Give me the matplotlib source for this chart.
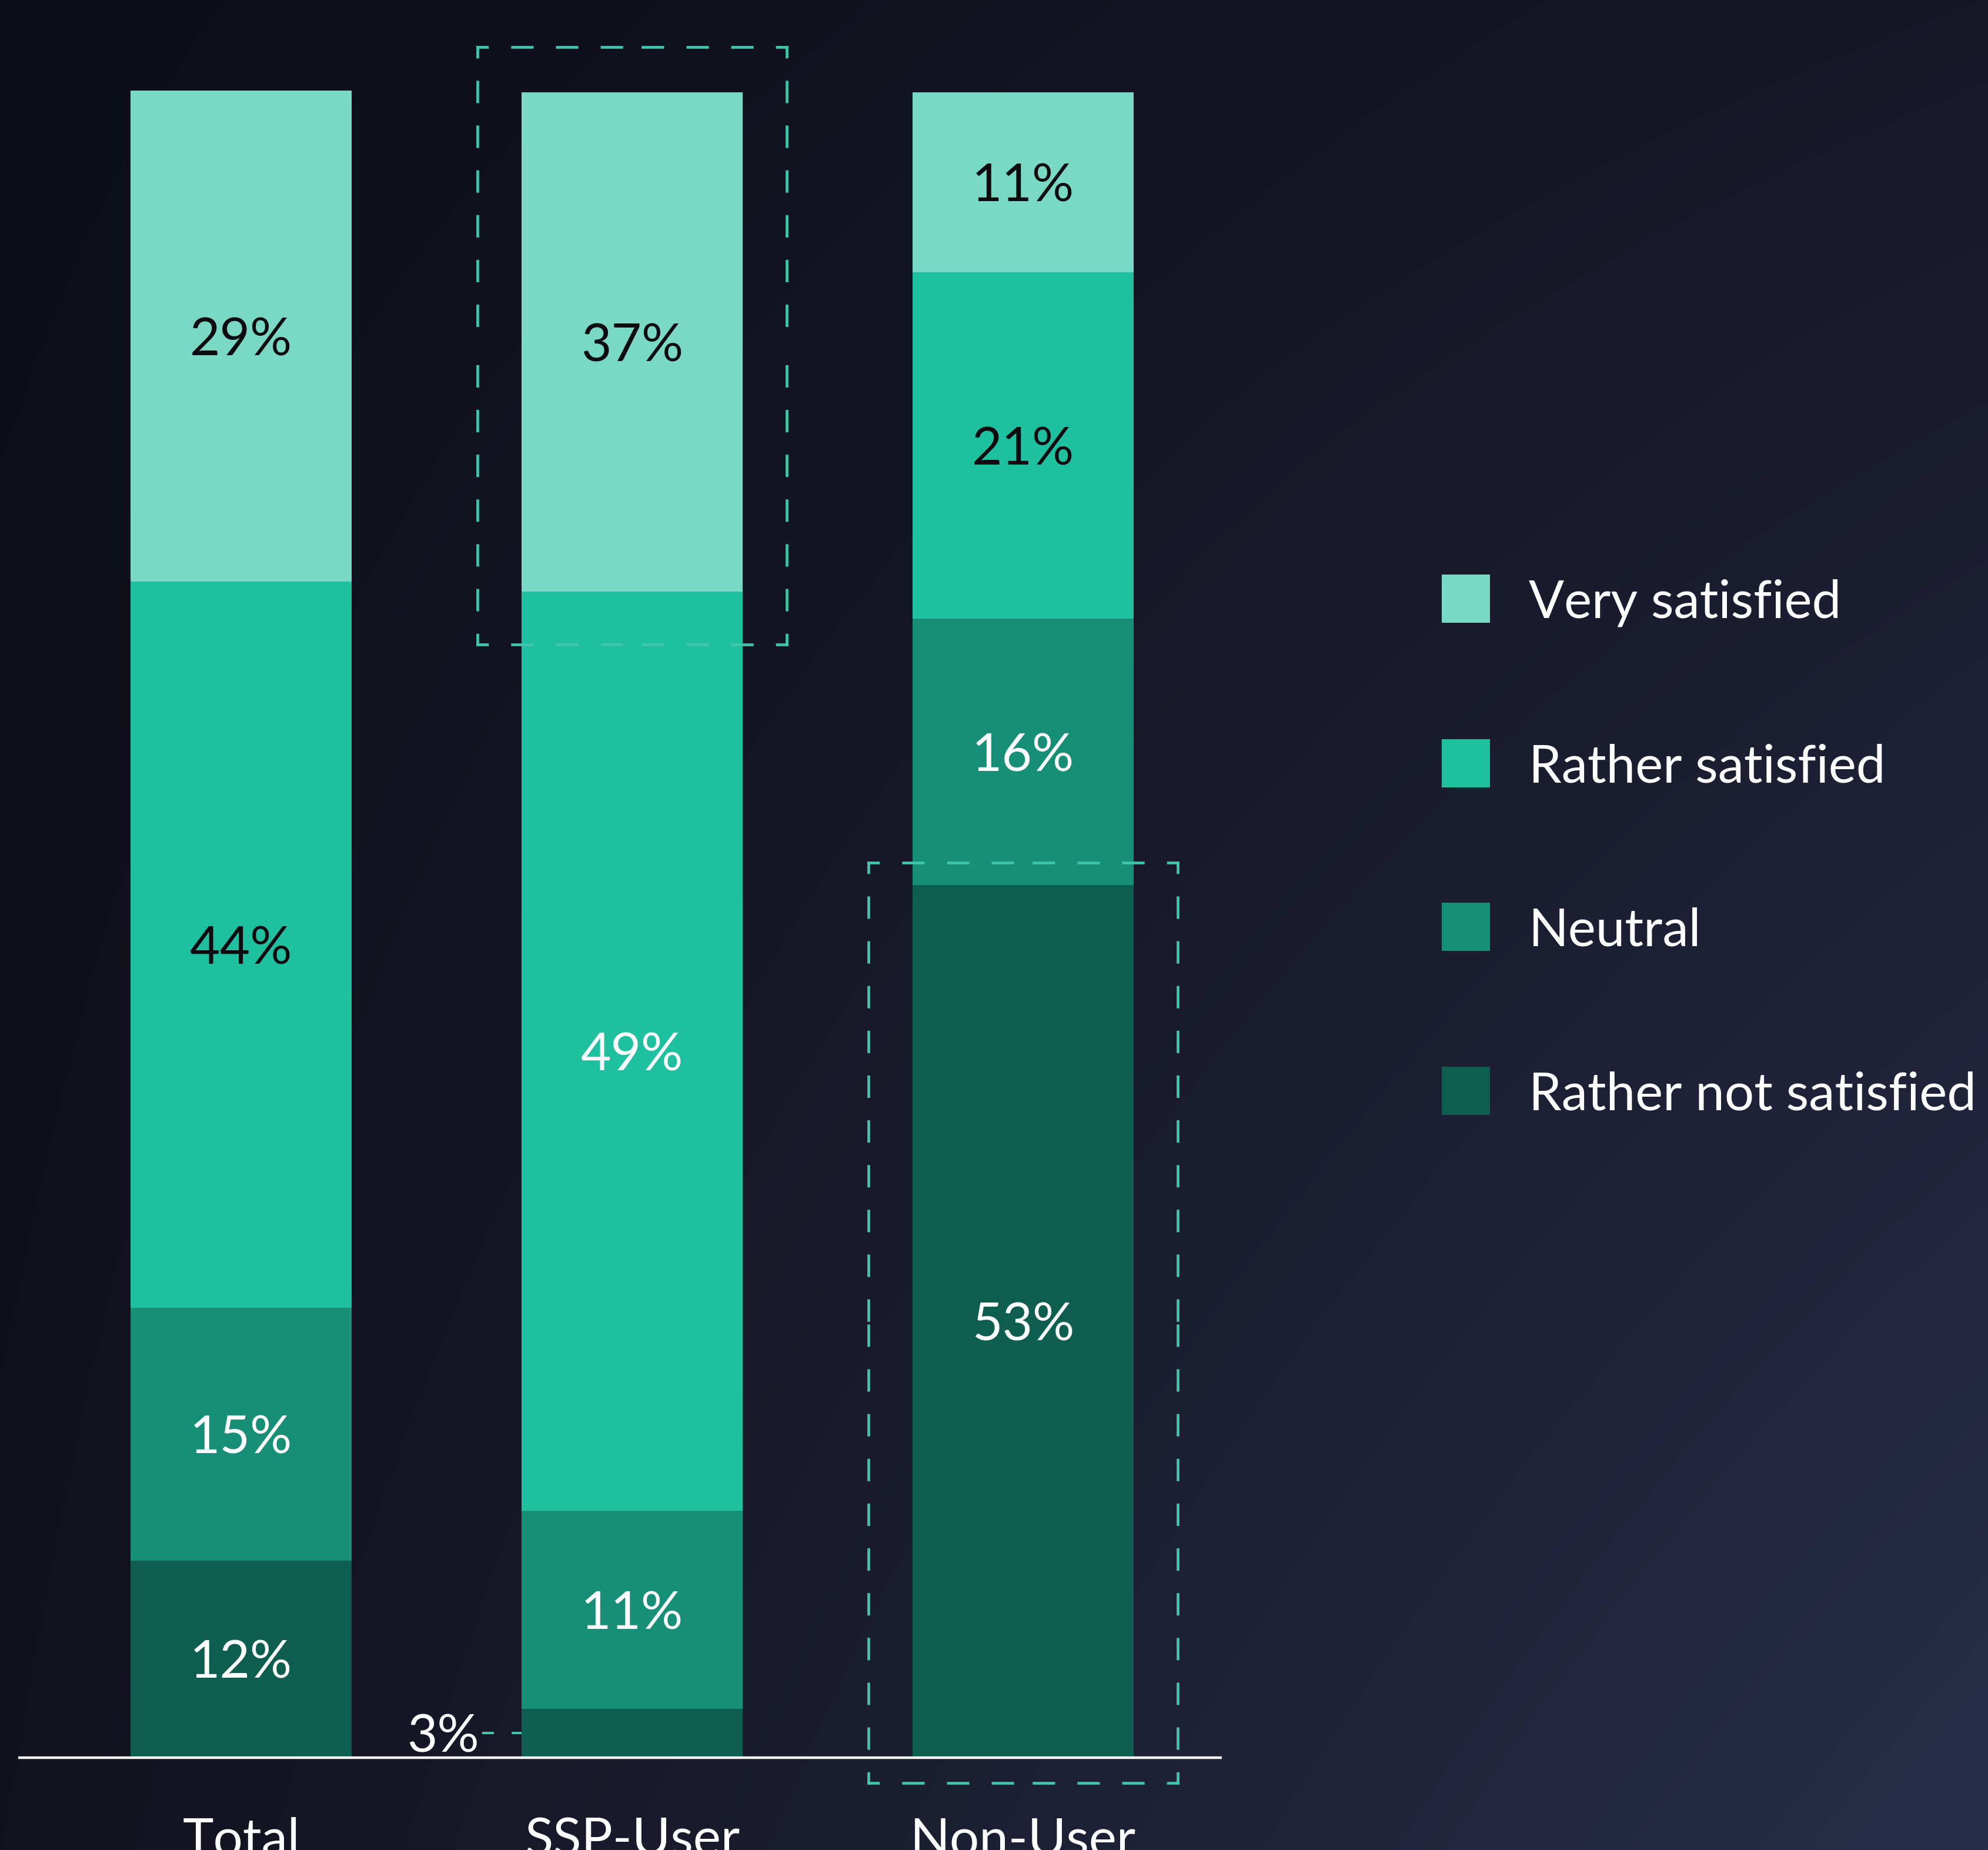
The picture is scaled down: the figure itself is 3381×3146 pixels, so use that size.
import numpy as np
import matplotlib
matplotlib.use("Agg")
import matplotlib.pyplot as plt
from matplotlib.patches import Rectangle

# ---------------- data ----------------
categories = ["Total", "SSP-User", "Non-User"]
series = ["Very satisfied", "Rather satisfied", "Neutral", "Rather not satisfied"]

# printed percentages
very_pct = [29, 37, 11]
rather_pct = [44, 49, 21]
neutral_pct = [15, 11, 16]
notsat_pct = [12, 3, 53]

# segment heights as drawn in the picture (share of bar, %)
very_h = [29.5, 30.0, 10.8]
rather_h = [43.6, 55.2, 20.8]
neutral_h = [15.2, 11.9, 16.0]
notsat_h = [11.8, 2.9, 52.4]

# ---------------- style ----------------
colors = ["#79D9C5", "#1FC09F", "#178F77", "#0E5E4F"]
box_color = "#3FC7AD"
dark_txt = "#0B0B10"
FONT = ["Lato", "DejaVu Sans"]
FS = 64
WEIGHT = "normal"

W, H, DPI = 3381, 3146, 100
X0, DX = 410.0, 665.0      # pixel x of first category, pixel spacing
Y0, PPU = 2988.0, 28.31    # pixel y of baseline, pixels per percent


def dx(px):
    return (px - X0) / DX


def dy(py):
    return (Y0 - py) / PPU


plt.rcParams["font.family"] = FONT

fig = plt.figure(figsize=(W / DPI, H / DPI), dpi=DPI)

# background gradient
bg = fig.add_axes([0, 0, 1, 1])
bg.set_axis_off()
u = np.linspace(0, 1, 400)[None, :]
v = np.linspace(0, 1, 400)[:, None]
TL = np.array([14, 14, 24]) / 255
TR = np.array([23, 23, 40]) / 255
BL = np.array([18, 18, 30]) / 255
BR = np.array([40, 46, 74]) / 255
img = (TL * ((1 - u) * (1 - v))[..., None] + TR * (u * (1 - v))[..., None]
       + BL * ((1 - u) * v)[..., None] + BR * (u * v)[..., None])
bg.imshow(img, extent=[0, 1, 0, 1], aspect="auto", interpolation="bilinear")
bg.set_xlim(0, 1)
bg.set_ylim(0, 1)

ax = fig.add_axes([0, 0, 1, 1])
ax.patch.set_alpha(0)
ax.set_axis_off()
ax.set_xlim(dx(0), dx(W))
ax.set_ylim(dy(H), dy(0))

x = np.arange(len(categories))
bar_w = 376 / DX

heights = [notsat_h, neutral_h, rather_h, very_h]
pcts = [notsat_pct, neutral_pct, rather_pct, very_pct]
cols = [colors[3], colors[2], colors[1], colors[0]]
txt_cols = [["white"] * 3, ["white"] * 3, [dark_txt, "white", dark_txt], [dark_txt] * 3]

bottom = np.zeros(len(categories))
mids = []
for h, c in zip(heights, cols):
    h = np.array(h)
    ax.bar(x, h, bar_w, bottom=bottom, color=c, linewidth=0, zorder=2)
    mids.append(bottom + h / 2)
    bottom = bottom + h

half_cap = 33 / PPU
for k in range(4):
    for i in range(len(categories)):
        if k == 0 and i == 1:
            continue  # small segment labelled outside
        ax.text(x[i], mids[k][i] - half_cap, f"{pcts[k][i]}%", ha="center",
                va="baseline", fontsize=FS, color=txt_cols[k][i], fontweight=WEIGHT, zorder=4)

# outside label for the small SSP segment
lab_right = x[1] - bar_w / 2 - 72 / DX
ax.text(lab_right, mids[0][1] - half_cap, f"{notsat_pct[1]}%", ha="right", va="baseline",
        fontsize=FS, color="white", fontweight=WEIGHT, zorder=4)
ax.plot([lab_right + 5 / DX, x[1] - bar_w / 2], [mids[0][1]] * 2, color=box_color,
        lw=2.9, linestyle=(0, (5, 7.5)), zorder=3)

# baseline
ax.plot([dx(31), dx(2078)], [-1 / PPU, -1 / PPU], color="#F4F4F4", lw=3.2,
        solid_capstyle="butt", zorder=3)

# category labels (cut by the lower edge, as in the original)
for i, cat in enumerate(categories):
    ax.text(x[i], dy(3156), cat, ha="center", va="baseline", fontsize=FS,
            color="white", fontweight=WEIGHT, zorder=4)


# dashed highlight boxes
def dashed_box(x0, x1, y0, y1):
    lw_px = 4.7
    lw = lw_px * 72 / DPI
    ls = (3.6, (7.1, 9.1))
    xm, ym = (x0 + x1) / 2, (y0 + y1) / 2
    segs = [((x0, y1), (xm, y1)), ((x1, y1), (xm, y1)),
            ((x0, y0), (xm, y0)), ((x1, y0), (xm, y0)),
            ((x0, y1), (x0, ym)), ((x0, y0), (x0, ym)),
            ((x1, y1), (x1, ym)), ((x1, y0), (x1, ym))]
    for (a, b) in segs:
        ax.plot([a[0], b[0]], [a[1], b[1]], color=box_color, lw=lw, linestyle=ls,
                dash_capstyle="projecting", zorder=3)


pad_x = (188 + 75) / DX
ssp_top = bottom[1]
ssp_split = bottom[1] - very_h[1]
dashed_box(x[1] - pad_x, x[1] + pad_x, ssp_split - 90 / PPU, ssp_top + 77 / PPU)
dashed_box(x[2] - pad_x, x[2] + pad_x, -44 / PPU, notsat_h[2] + 38 / PPU)

# legend (manual)
leg_rows = [1018, 1298, 1576, 1855]
sq = 82
for name, c, yc in zip(series, colors, leg_rows):
    ax.add_patch(Rectangle((dx(2452), dy(yc + sq / 2)), sq / DX, sq / PPU,
                           facecolor=c, edgecolor="none", clip_on=False, zorder=3))
    ax.text(dx(2600), dy(yc + 32), name, ha="left", va="baseline", fontsize=FS,
            color="white", fontweight=WEIGHT, zorder=4)

fig.savefig("out.png", dpi=DPI)
